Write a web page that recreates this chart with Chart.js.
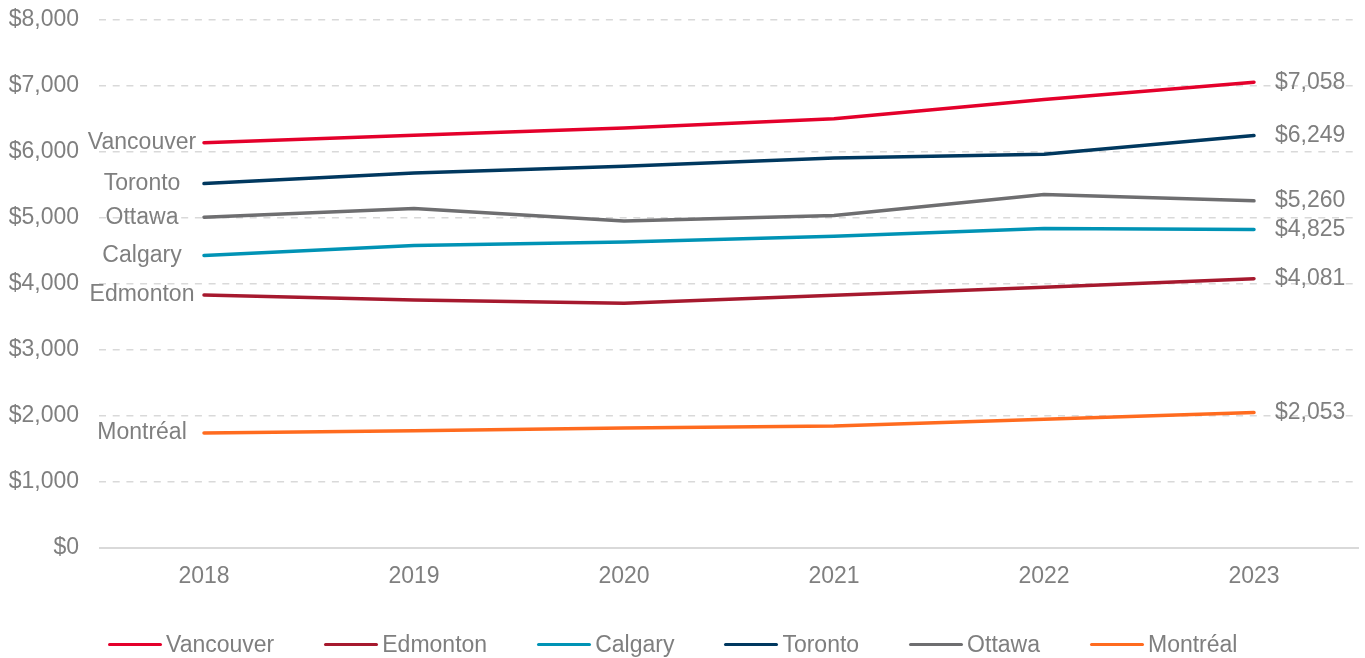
<!DOCTYPE html>
<html lang="en">

<head>
  <meta charset="UTF-8" />
  <title>Cost by city, 2018-2023</title>
  <script src="https://cdn.jsdelivr.net/npm/chart.js"></script>

  <style>
    html, body {
      margin: 0;
      padding: 0;
      background: #fff;
    }
    .wrap {
      position: relative;
      width: 1365px;
      height: 658px;
    }
    .legend {
      position: absolute;
      left: 108px;
      top: 630px;
      display: flex;
      align-items: center;
      font-family: "Liberation Sans", Arial, sans-serif;
      font-size: 23px;
      color: #7f7f7f;
      white-space: nowrap;
    }
    .legend .item {
      display: flex;
      align-items: center;
      margin-right: 50px;
      height: 28px;
    }
    .legend .item:last-child {
      margin-right: 0;
    }
    .legend .swatch {
      display: inline-block;
      width: 54px;
      height: 3px;
      border-radius: 2px;
      margin-right: 4px;
    }
  </style>
</head>

<body>
  <div class="wrap">
    <canvas id="chartCidades" width="1365" height="658"></canvas>
    <div class="legend" id="legenda"></div>
  </div>

  <script>
    const years = ['2018', '2019', '2020', '2021', '2022', '2023'];

    const vancouver = [6142, 6253, 6363, 6505, 6797, 7058];
    const edmonton  = [3832, 3756, 3707, 3828, 3949, 4081];
    const calgary   = [4433, 4584, 4638, 4725, 4840, 4825];
    const toronto   = [5522, 5682, 5784, 5909, 5965, 6249];
    const ottawa    = [5012, 5144, 4956, 5038, 5356, 5260];
    const montreal  = [1744, 1775, 1820, 1850, 1952, 2053];

    const yTicks = [0, 1000, 2000, 3000, 4000, 5000, 6000, 7000, 8000];

    const cityNames  = ['Vancouver', 'Edmonton', 'Calgary', 'Toronto', 'Ottawa', 'Montréal'];
    const cityValues = [vancouver, edmonton, calgary, toronto, ottawa, montreal];
    const cityColors = ['#e4002b', '#a6192e', '#0093b5', '#00385f', '#6e6e70', '#ff6b1f'];

    const gray = '#7f7f7f';
    const fontFamily = '"Liberation Sans", Arial, sans-serif';

    function money(v) {
      return '$' + Number(v).toLocaleString('en-US');
    }

    // city name before the first point, value after the last one
    const endLabels = {
      id: 'endLabels',
      afterDatasetsDraw(chart) {
        const ctx = chart.ctx;
        ctx.save();
        ctx.font = '23px ' + fontFamily;
        ctx.fillStyle = gray;
        ctx.textBaseline = 'middle';
        chart.data.datasets.forEach((ds, i) => {
          const pts = chart.getDatasetMeta(i).data;
          const first = pts[0];
          const last = pts[pts.length - 1];
          ctx.textAlign = 'center';
          ctx.fillText(ds.label, first.x - 62, first.y);
          ctx.textAlign = 'left';
          ctx.fillText(money(ds.data[ds.data.length - 1]), last.x + 21, last.y);
        });
        ctx.restore();
      }
    };

    const ctx = document.getElementById('chartCidades').getContext('2d');
    const chart = new Chart(ctx, {
      type: 'line',
      data: {
        labels: years,
        datasets: cityNames.map((name, i) => ({
          label: name,
          data: cityValues[i],
          borderColor: cityColors[i],
          backgroundColor: cityColors[i],
          borderWidth: 3.5,
          borderCapStyle: 'round',
          borderJoinStyle: 'round',
          pointRadius: 0,
          fill: false,
          tension: 0
        }))
      },
      options: {
        responsive: false,
        animation: false,
        devicePixelRatio: 1,
        layout: {
          padding: { top: 20, right: 6, bottom: 0, left: 0 }
        },
        plugins: {
          legend: { display: false },
          tooltip: { enabled: false }
        },
        scales: {
          x: {
            offset: true,
            grid: { display: false, drawTicks: false },
            border: { display: false },
            ticks: {
              color: gray,
              font: { family: fontFamily, size: 23 },
              padding: 15,
              maxRotation: 0
            },
            afterFit(scale) { scale.height = 110; }
          },
          y: {
            min: 0,
            max: 8000,
            afterBuildTicks(scale) {
              scale.ticks = yTicks.map(v => ({ value: v }));
            },
            grid: {
              color: '#d9d9d9',
              lineWidth: ctx => ctx.tick && ctx.tick.value === 0 ? 2 : 1.5,
              drawTicks: true,
              tickLength: 20,
              tickColor: 'rgba(0,0,0,0)'
            },
            border: {
              display: false,
              dash: ctx => ctx.tick && ctx.tick.value === 0 ? [] : [7, 6.7]
            },
            ticks: {
              color: gray,
              font: { family: fontFamily, size: 23 },
              padding: 0,
              callback: v => money(v)
            },
            afterFit(scale) { scale.width = 99; }
          }
        }
      },
      plugins: [endLabels]
    });

    // legend row under the chart
    const legenda = document.getElementById('legenda');
    cityNames.forEach((name, i) => {
      const item = document.createElement('span');
      item.className = 'item';
      const sw = document.createElement('span');
      sw.className = 'swatch';
      sw.style.background = cityColors[i];
      item.appendChild(sw);
      item.appendChild(document.createTextNode(name));
      legenda.appendChild(item);
    });
  </script>
</body>

</html>
